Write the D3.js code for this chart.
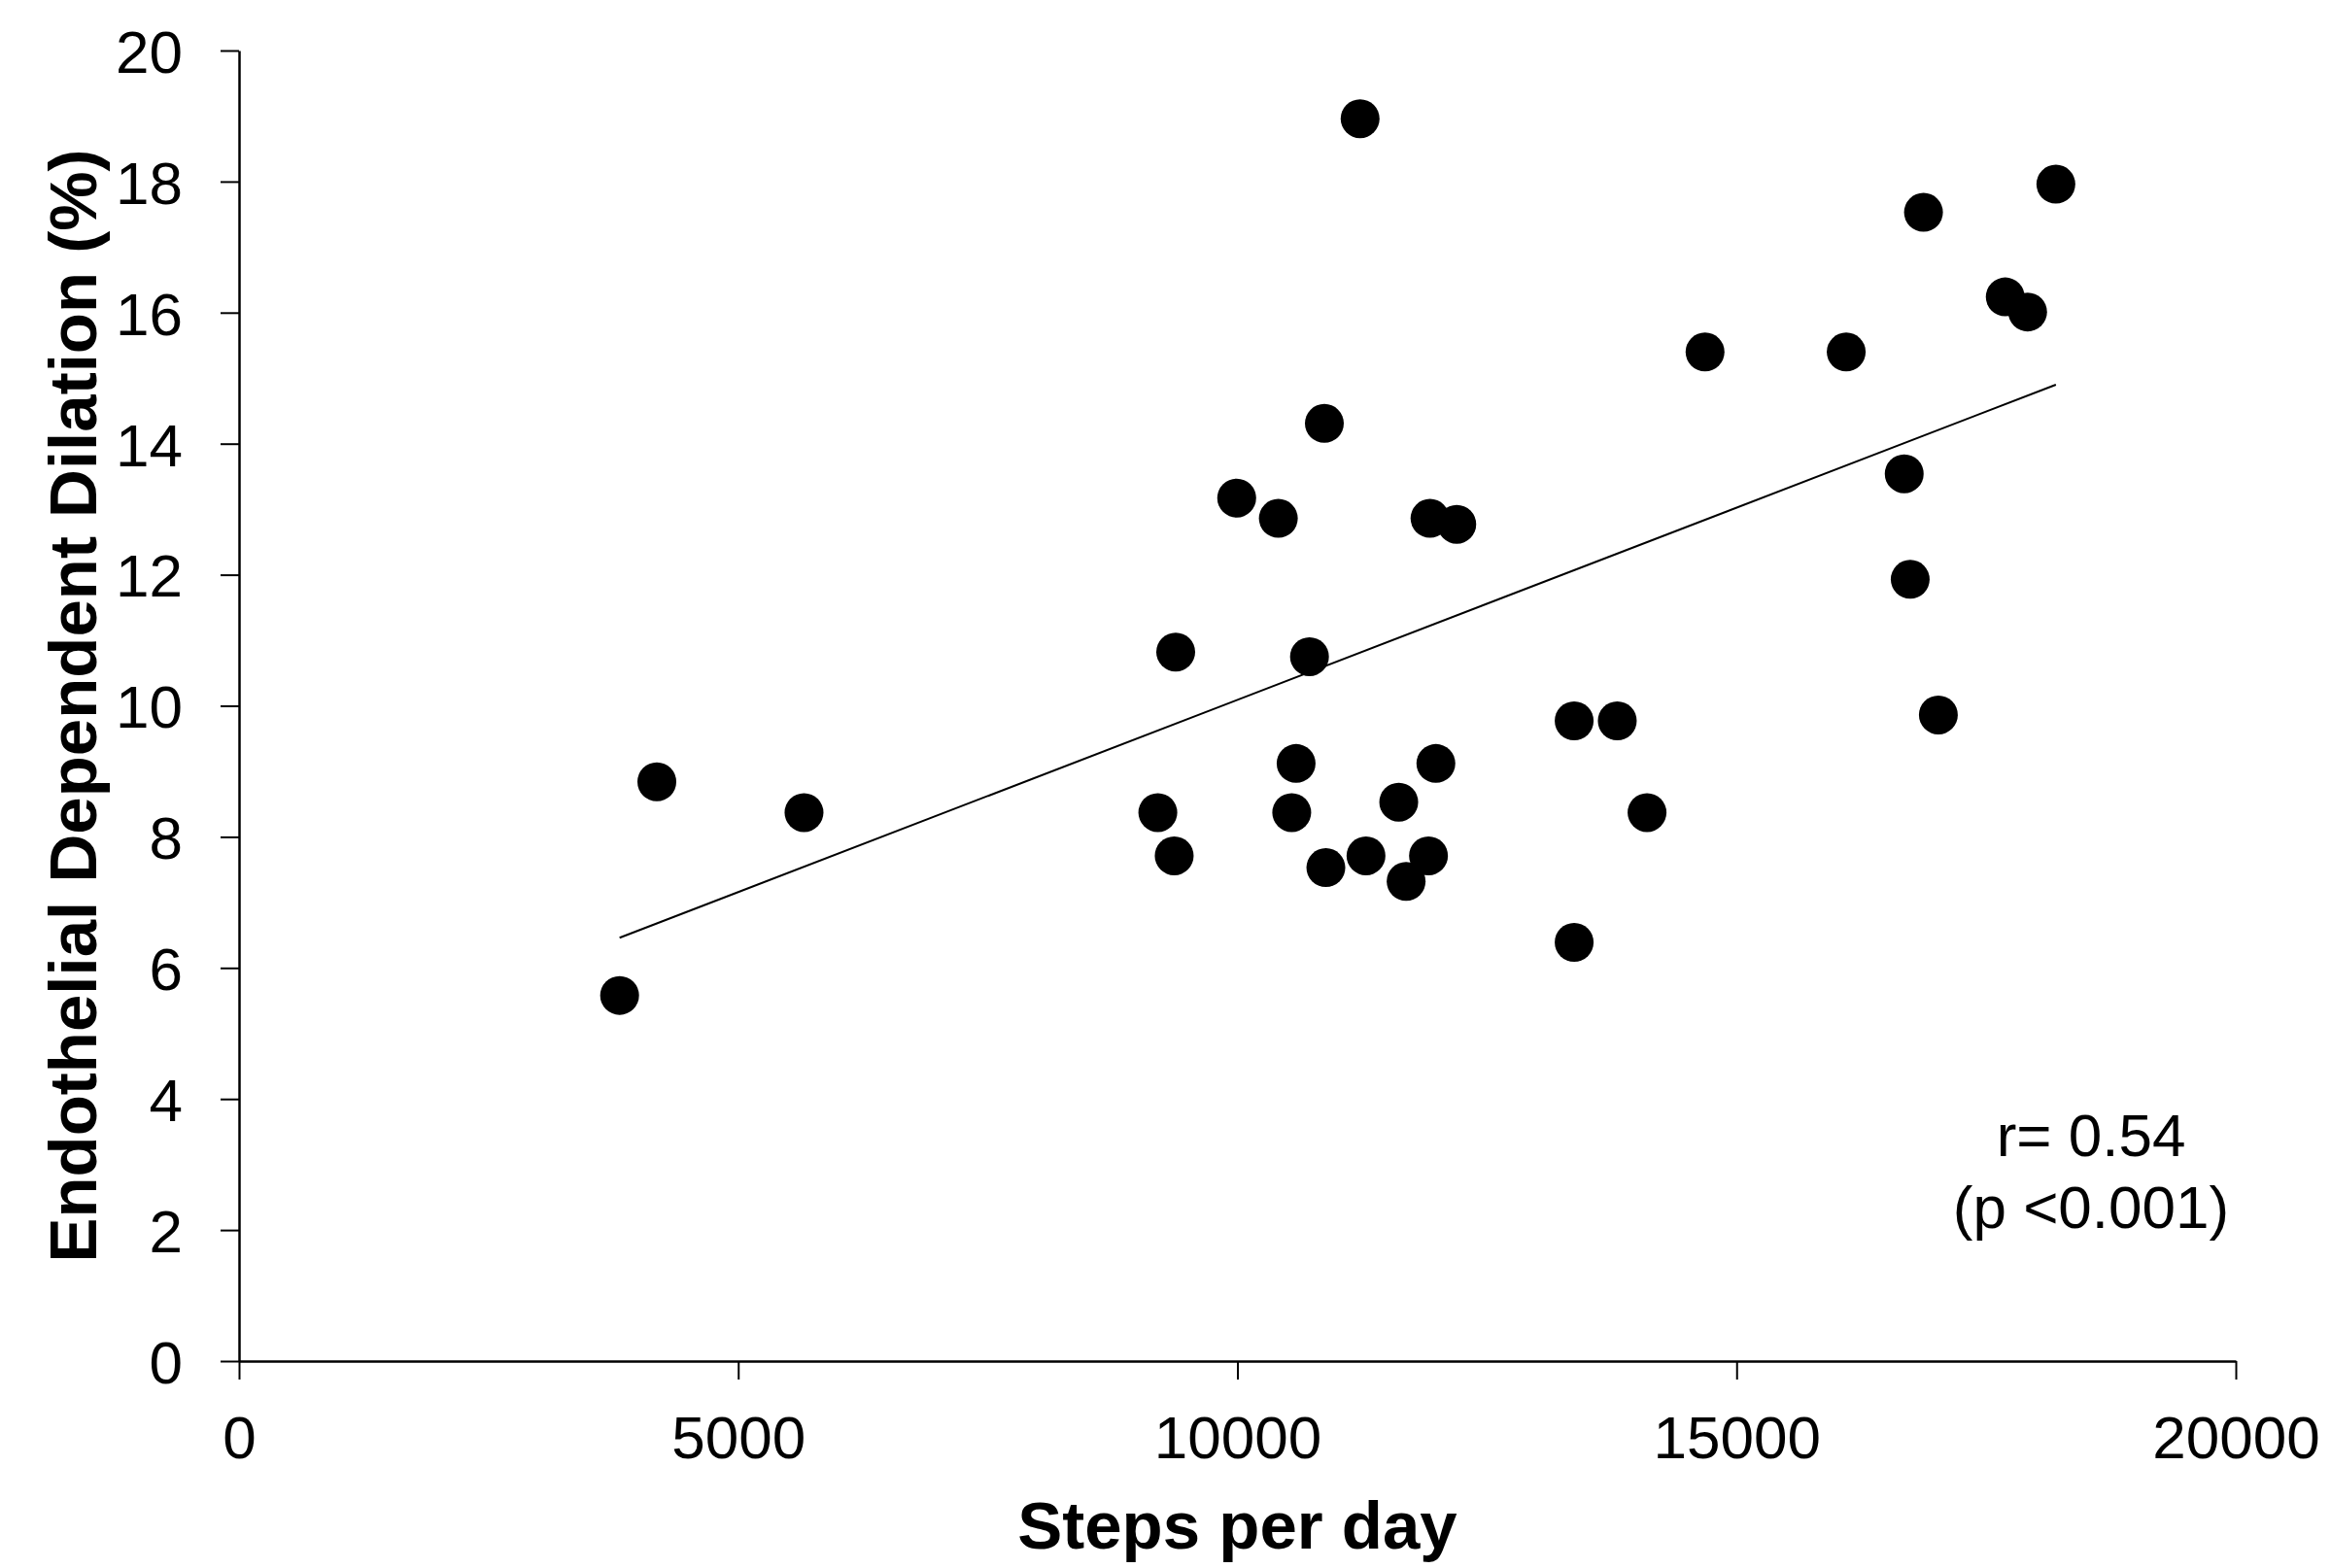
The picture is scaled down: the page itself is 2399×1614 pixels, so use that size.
<!DOCTYPE html>
<html>
<head>
<meta charset="utf-8">
<script src="https://cdn.jsdelivr.net/npm/d3@7"></script>
<style>
  body { margin: 0; background: #fff; }
  text { font-family: 'Liberation Sans', Arial, sans-serif; }
</style>
</head>
<body>
<div class="canvas"></div>
<script>
// Data
const steps = [3812, 4185, 5659, 9203, 9367, 9382, 9993, 10410, 10544, 10588,
  10722, 10871, 10886, 11229, 11288, 11616, 11690, 11914, 11929, 11988,
  12197, 13373, 13373, 13805, 14103, 14684, 16098, 16679, 16739, 16872,
  17021, 17691, 17915, 18198];
const dilation = [5.58, 8.84, 8.37, 8.37, 7.71, 10.82, 13.17, 12.86, 8.37, 9.12,
  10.75, 14.31, 7.53, 18.96, 7.71, 8.53, 7.32, 7.71, 12.86, 9.12,
  12.77, 9.77, 6.39, 9.77, 8.37, 15.40, 15.40, 13.54, 11.93, 17.53,
  9.86, 16.24, 16.01, 17.96];
const trendX = [3812, 18198];
const trendY = [6.46, 14.90];
const xTicks = [0, 5000, 10000, 15000, 20000];
const yTicks = [0, 2, 4, 6, 8, 10, 12, 14, 16, 18, 20];
const statLines = ['r= 0.54', '(p <0.001)'];

// Setup dimensions
const dims = { width: 2399, height: 1614 };
const margin = { top: 52, right: 98, bottom: 213, left: 246 };
const inner = {
  width: dims.width - margin.left - margin.right,
  height: dims.height - margin.top - margin.bottom
};

const svg = d3.select('.canvas')
  .append('svg')
  .attr('width', dims.width)
  .attr('height', dims.height);

svg.append('rect')
  .attr('width', dims.width)
  .attr('height', dims.height)
  .attr('fill', 'white');

const graph = svg.append('g')
  .attr('transform', `translate(${margin.left}, ${margin.top})`);

const x = d3.scaleLinear().domain([0, 20000]).range([0, inner.width]);
const y = d3.scaleLinear().domain([0, 20]).range([inner.height, 0]);

// axes
const xAxis = d3.axisBottom(x)
  .tickValues(xTicks)
  .tickFormat(d3.format('d'))
  .tickSizeInner(19)
  .tickSizeOuter(0)
  .tickPadding(37);

const yAxis = d3.axisLeft(y)
  .tickValues(yTicks)
  .tickSizeInner(19)
  .tickSizeOuter(0)
  .tickPadding(39);

const yGroup = graph.append('g').call(yAxis);
const xGroup = graph.append('g')
  .attr('transform', `translate(0, ${inner.height})`)
  .call(xAxis);

[xGroup, yGroup].forEach(g => {
  g.select('.domain').attr('stroke', '#000').attr('stroke-width', 2.5);
  g.selectAll('.tick line').attr('stroke', '#000').attr('stroke-width', 2);
  g.selectAll('.tick text')
    .attr('fill', '#000')
    .attr('font-size', 62)
    .attr('font-family', "'Liberation Sans', Arial, sans-serif");
});
yGroup.selectAll('.tick text').attr('dy', '0.36em');

// trend line
graph.append('line')
  .attr('x1', x(trendX[0]))
  .attr('y1', y(trendY[0]))
  .attr('x2', x(trendX[1]))
  .attr('y2', y(trendY[1]))
  .attr('stroke', '#000')
  .attr('stroke-width', 2);

// points
graph.selectAll('circle')
  .data(steps.map((s, i) => ({ steps: s, dil: dilation[i] })))
  .enter()
  .append('circle')
    .attr('cx', d => x(d.steps))
    .attr('cy', d => y(d.dil))
    .attr('r', 20)
    .attr('fill', '#000');

// correlation note
svg.append('text')
  .attr('x', 2152)
  .attr('y', 1190)
  .attr('text-anchor', 'middle')
  .attr('font-size', 62)
  .selectAll('tspan')
  .data(statLines)
  .enter()
  .append('tspan')
    .attr('x', 2152)
    .attr('dy', (d, i) => i ? 74 : 0)
    .text(d => d);

// axis titles
svg.append('text')
  .attr('x', margin.left + inner.width / 2)
  .attr('y', 1594)
  .attr('text-anchor', 'middle')
  .attr('font-size', 69)
  .attr('font-weight', 'bold')
  .text('Steps per day');

svg.append('text')
  .attr('transform', `translate(99, ${margin.top + inner.height / 2}) rotate(-90)`)
  .attr('text-anchor', 'middle')
  .attr('font-size', 69)
  .attr('font-weight', 'bold')
  .text('Endothelial Dependent Dilation (%)');
</script>
</body>
</html>
